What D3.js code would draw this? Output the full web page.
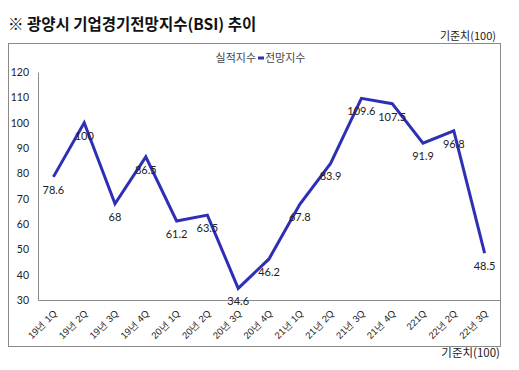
<!DOCTYPE html>
<html>
<head>
<meta charset="utf-8">
<script src="https://cdn.jsdelivr.net/npm/d3@7"></script>
<style>
  html, body { margin: 0; padding: 0; background: #fff; }
  svg { display: block; font-family: "Noto Sans CJK KR", "Noto Sans", sans-serif; }
  .tick text { fill: #222; }
</style>
</head>
<body>
<svg id="canvas" width="519" height="370"></svg>
<script>
// ---------- data ----------
const categories = ["19년 1Q","19년 2Q","19년 3Q","19년 4Q","20년 1Q","20년 2Q","20년 3Q","20년 4Q",
                    "21년 1Q","21년 2Q","21년 3Q","21년 4Q","221Q","22년 2Q","22년 3Q"];
const outlook = [78.6, 100, 68, 86.5, 61.2, 63.5, 34.6, 46.2, 67.8, 83.9, 109.6, 107.5, 91.9, 96.8, 48.5];
const yTicks = [30, 40, 50, 60, 70, 80, 90, 100, 110, 120];

const svg = d3.select("#canvas");
const m = { left: 38, right: 500, top: 72, bottom: 300 };

// title
svg.append("text")
  .attr("x", 8).attr("y", 30)
  .attr("font-size", 15.5).attr("font-weight", "bold").attr("fill", "#111")
  .text("※ 광양시 기업경기전망지수(BSI) 추이");

svg.append("text")
  .attr("x", 496).attr("y", 40).attr("text-anchor", "end")
  .attr("font-size", 11).attr("fill", "#222")
  .text("기준치(100)");

// outer frame
svg.append("rect")
  .attr("x", 8.5).attr("y", 43.5).attr("width", 492).attr("height", 303)
  .attr("fill", "none").attr("stroke", "#8a8a8a");

const x = d3.scaleBand().domain(categories).range([m.left, m.right]);
const y = d3.scaleLinear().domain([30, 120]).range([m.bottom, m.top]);

// y axis
const yAxis = svg.append("g")
  .attr("transform", `translate(${m.left},0)`)
  .call(d3.axisLeft(y).tickValues(yTicks).tickSize(0).tickPadding(9));
yAxis.select(".domain").attr("stroke", "#8a8a8a");
yAxis.selectAll("text").attr("font-size", 10.5).attr("font-family", "Lato, sans-serif").attr("fill", "#222");

// x axis
const xAxis = svg.append("g")
  .attr("transform", `translate(0,${m.bottom})`)
  .call(d3.axisBottom(x).tickSize(0).tickPadding(0));
xAxis.select(".domain").attr("stroke", "#8a8a8a");
xAxis.selectAll("text")
  .attr("font-size", 9.5).attr("fill", "#333")
  .attr("text-anchor", "end")
  .attr("dy", null).attr("y", 0)
  .attr("transform", "translate(4,14) rotate(-45)");

// legend
const lg = svg.append("g").attr("font-size", 11).attr("fill", "#444");
lg.append("text").attr("x", 256).attr("y", 62).attr("text-anchor", "end").text("실적지수");
lg.append("line").attr("x1", 258).attr("x2", 264).attr("y1", 58).attr("y2", 58)
  .attr("stroke", "#2f2fb5").attr("stroke-width", 3);
lg.append("text").attr("x", 265).attr("y", 62).text("전망지수");

// line
const line = d3.line()
  .x((d, i) => x(categories[i]) + x.bandwidth() / 2)
  .y(d => y(d));
svg.append("path")
  .datum(outlook)
  .attr("d", line)
  .attr("fill", "none")
  .attr("stroke", "#2f2fb5")
  .attr("stroke-width", 3)
  .attr("stroke-linejoin", "miter");

// data labels
svg.append("g").selectAll("text")
  .data(outlook)
  .join("text")
  .attr("x", (d, i) => x(categories[i]) + x.bandwidth() / 2)
  .attr("y", d => y(d) + 17)
  .attr("text-anchor", "middle")
  .attr("font-size", 11)
  .attr("font-family", "Lato, sans-serif")
  .attr("fill", "#222")
  .text(d => d);

svg.append("text")
  .attr("x", 500).attr("y", 357).attr("text-anchor", "end")
  .attr("font-size", 11.5).attr("fill", "#222")
  .text("기준치(100)");
</script>
</body>
</html>
